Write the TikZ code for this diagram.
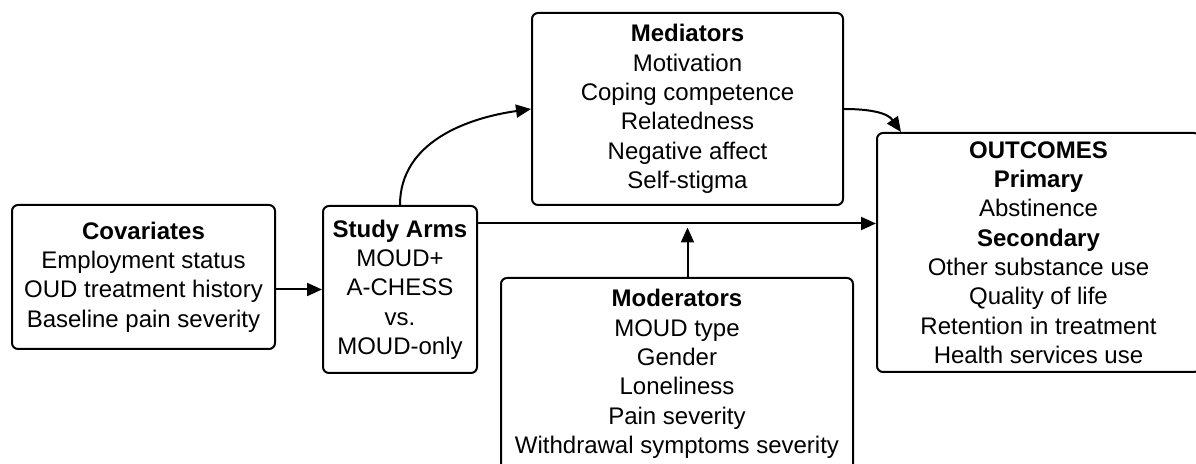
\documentclass[tikz,border=0pt]{standalone}
\usepackage{fontspec}
\setmainfont{Liberation Sans}
\usetikzlibrary{arrows.meta,calc}
\begin{document}
\begin{tikzpicture}[x=0.5pt,y=-0.5pt,
  box/.style={draw,line width=1pt,rounded corners=3pt,align=center,inner sep=0pt,
    font=\fontsize{12}{14.65}\selectfont},
  conn/.style={line width=1pt,-{Triangle[length=7.5pt,width=6.5pt]}}]
\useasboundingbox (0,0) rectangle (1196,464);
\node[box,minimum width=131.5pt,minimum height=72pt] (cov) at (143.5,277)
  {\textbf{Covariates}\\Employment status\\OUD treatment history\\Baseline pain severity};
\node[box,minimum width=77pt,minimum height=83.5pt] (arms) at (400,289.5)
  {\textbf{Study Arms}\\MOUD+\\A-CHESS\\vs.\\MOUD-only};
\node[box,minimum width=155.5pt,minimum height=96pt] (med) at (687.5,109)
  {\textbf{Mediators}\\Motivation\\Coping competence\\Relatedness\\Negative affect\\Self-stigma};
\node[box,minimum width=161.5pt,minimum height=119.5pt] (out) at (1038.5,252.5)
  {\textbf{OUTCOMES}\\\textbf{Primary}\\Abstinence\\\textbf{Secondary}\\Other substance use\\Quality of life\\Retention in treatment\\Health services use};
\node[box,minimum width=176pt,minimum height=96pt] (mod) at (677,374)
  {\textbf{Moderators}\\MOUD type\\Gender\\Loneliness\\Pain severity\\Withdrawal symptoms severity};
\draw[conn] (cov.east |- arms.west) -- (arms.west);
\draw[conn] ([yshift=33pt]arms.east) -- ([yshift=33pt]arms.east -| out.west);
\coordinate (modtip) at ($([yshift=33pt]arms.east -| med.south)+(0,4)$);
\draw[conn] (mod.north -| med.south) -- (modtip);
\draw[conn] (arms.north) to[out=90,in=188] (med.west);
\draw[conn] (med.east) to[out=0,in=125] ([xshift=12.5pt]out.north west);
\end{tikzpicture}
\end{document}
